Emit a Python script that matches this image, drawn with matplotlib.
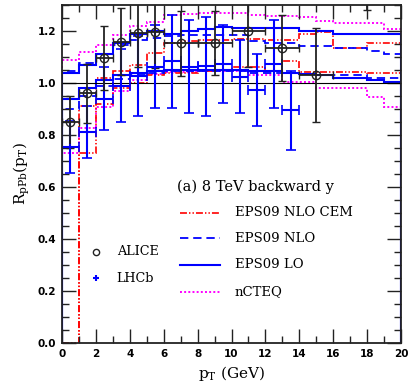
import numpy as np
import matplotlib
matplotlib.use('Agg')
import matplotlib.pyplot as plt

plt.rcParams['font.family'] = 'DejaVu Serif'
plt.rcParams['mathtext.fontset'] = 'dejavuserif'
plt.rcParams['lines.scale_dashes'] = False

# theory bands, 1 GeV bins from 0 to 20 GeV (upper / lower edge)
pt_edges = list(range(21))
cem_hi = [0.0, 0.91, 1.02, 1.045, 1.07, 1.115, 1.153, 1.16, 1.165, 1.165,
          1.168, 1.168, 1.165, 1.165, 1.19, 1.197, 1.133, 1.133, 1.153, 1.153]
cem_lo = [0.0, 0.73, 0.92, 0.98, 1.0, 1.03, 1.04, 1.04, 1.045, 1.05,
          1.06, 1.063, 1.045, 1.086, 1.043, 1.043, 1.043, 1.043, 1.037, 1.037]
nlo_hi = [1.047, 1.076, 1.11, 1.145, 1.165, 1.175, 1.18, 1.185, 1.185, 1.185,
          1.185, 1.16, 1.155, 1.155, 1.142, 1.142, 1.133, 1.133, 1.124, 1.112]
nlo_lo = [0.90, 0.95, 0.99, 1.015, 1.03, 1.04, 1.045, 1.045, 1.045, 1.045,
          1.045, 1.04, 1.04, 1.04, 1.035, 1.03, 1.03, 1.03, 1.018, 1.018]
lo_hi = [1.04, 1.07, 1.11, 1.155, 1.19, 1.20, 1.19, 1.20, 1.207, 1.215,
         1.21, 1.21, 1.21, 1.21, 1.20, 1.20, 1.19, 1.19, 1.19, 1.188]
lo_lo = [0.94, 0.98, 1.01, 1.03, 1.04, 1.045, 1.05, 1.05, 1.05, 1.05,
         1.05, 1.045, 1.045, 1.04, 1.035, 1.03, 1.018, 1.018, 1.01, 1.005]
ncteq_hi = [1.09, 1.12, 1.146, 1.185, 1.22, 1.235, 1.262, 1.265, 1.268, 1.268,
            1.268, 1.262, 1.258, 1.256, 1.253, 1.24, 1.232, 1.232, 1.23, 1.207]
ncteq_lo = [0.73, 0.826, 0.909, 0.97, 1.01, 1.035, 1.043, 1.043, 1.047, 1.047,
            1.047, 1.03, 1.03, 1.005, 1.005, 0.98, 0.98, 0.98, 0.947, 0.908]

# ALICE data
alice_pt = [0.5, 1.5, 2.5, 3.5, 4.5, 5.5, 7, 9, 11, 13, 15, 18]
alice_dpt = [0.5, 0.5, 0.5, 0.5, 0.5, 0.5, 1, 1, 1, 1, 1, 2]
alice_r = [0.85, 0.96, 1.097, 1.159, 1.193, 1.197, 1.153, 1.155, 1.20, 1.133, 1.031, 1.45]
alice_err = [0.10, 0.115, 0.124, 0.13, 0.13, 0.14, 0.125, 0.123, 0.14, 0.127, 0.18, 0.17]

# LHCb data
lhcb_pt = [0.5, 1.5, 2.5, 3.5, 4.5, 5.5, 6.5, 7.5, 8.5, 9.5, 10.5, 11.5, 12.5, 13.5]
lhcb_r = [0.753, 0.813, 0.94, 0.99, 1.027, 1.063, 1.083, 1.063, 1.064, 1.073,
          1.024, 0.973, 1.072, 0.895]
lhcb_err = [0.10, 0.10, 0.12, 0.14, 0.155, 0.16, 0.18, 0.18, 0.19, 0.15,
            0.14, 0.14, 0.17, 0.153]

fig = plt.figure(figsize=(4.11, 3.90), dpi=100)
ax = fig.add_axes([62/411, 47/390, 339/411, 338/390])

styles = {
    'cem': dict(color='#ff0000', lw=1.2, dashes=[5, 1.5, 1, 1.5, 1, 1.5]),
    'nlo': dict(color='#0000ff', lw=1.3, dashes=[6, 3.5]),
    'lo': dict(color='#0000ff', lw=1.5, linestyle='-'),
    'ncteq': dict(color='#ff00ff', lw=1.4, dashes=[1.4, 1.6]),
}

def band(hi, lo, st):
    for vals in (hi, lo):
        s = ax.stairs(vals, pt_edges, baseline=0, color=st['color'], lw=st['lw'])
        if 'dashes' in st:
            s.set_linestyle((0, st['dashes']))

band(ncteq_hi, ncteq_lo, styles['ncteq'])
band(cem_hi, cem_lo, styles['cem'])
band(nlo_hi, nlo_lo, styles['nlo'])
band(lo_hi, lo_lo, styles['lo'])

ax.axhline(1.0, color='black', lw=0.8)

ax.errorbar(lhcb_pt, lhcb_r, yerr=lhcb_err, xerr=0.5, fmt='+', color='#0000ff',
            ms=4, mew=1.2, elinewidth=1.5, capsize=3.5, capthick=1.5)
ax.errorbar(alice_pt, alice_r, yerr=alice_err, xerr=alice_dpt, fmt='o',
            mfc='none', mec='#222222', color='#222222', ms=6, mew=1.0,
            elinewidth=1.3, capsize=3, capthick=1.3)

# legend drawn by hand
ax.text(6.78, 0.601, '(a) 8 TeV backward y', fontsize=10.5, va='center')
leg = [('EPS09 NLO CEM', 'cem', 0.501), ('EPS09 NLO', 'nlo', 0.403),
       ('EPS09 LO', 'lo', 0.30), ('nCTEQ', 'ncteq', 0.197)]
for name, key, yy in leg:
    st = styles[key]
    ln, = ax.plot([6.96, 9.32], [yy, yy], color=st['color'], lw=st['lw'])
    if 'dashes' in st:
        ln.set_dashes(st['dashes'])
    ax.text(10.2, yy, name, fontsize=9.5, va='center')

ax.plot([2.0], [0.351], 'o', mfc='none', mec='#222222', ms=4.5, mew=1.0)
ax.text(3.23, 0.351, 'ALICE', fontsize=9.2, va='center')
ax.plot([2.0], [0.249], '+', color='#0000ff', ms=5, mew=1.5)
ax.text(3.23, 0.249, 'LHCb', fontsize=9.2, va='center')

ax.set_xlim(0, 20)
ax.set_ylim(0, 1.3)
ax.set_xticks(np.arange(0, 21, 2))
ax.set_xticks(np.arange(0, 21, 1), minor=True)
ax.set_yticks(np.arange(0, 1.21, 0.2))
ax.set_yticks(np.arange(0, 1.31, 0.05), minor=True)
ax.set_yticklabels(['%.1f' % v for v in np.arange(0, 1.21, 0.2)])
ax.tick_params(which='both', direction='in', top=True, right=True, width=1.0,
               color='#222222')
ax.tick_params(which='major', length=10, labelsize=7.5, pad=4)
ax.tick_params(which='minor', length=5)
for lbl in ax.get_xticklabels() + ax.get_yticklabels():
    lbl.set_family('DejaVu Sans')
    lbl.set_fontweight('bold')
for sp in ax.spines.values():
    sp.set_linewidth(1.3)
    sp.set_color('#222222')

ax.set_xlabel(r'p$_{\mathrm{T}}$ (GeV)', fontsize=11, labelpad=4)
ax.set_ylabel(r'R$_{\mathrm{pPb}}$(p$_{\mathrm{T}}$)', fontsize=11, labelpad=4)

fig.savefig('out.png', dpi=100)
